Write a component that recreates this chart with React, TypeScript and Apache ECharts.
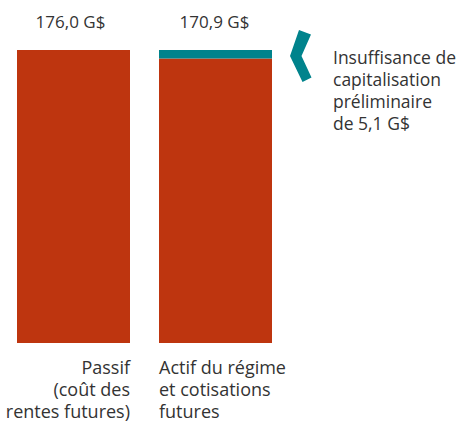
import React, { useEffect, useRef } from "react";
import * as echarts from "echarts";

const categories = ["Passif\n(coût des\nrentes futures)", "Actif du régime\net cotisations\nfutures"];
const baseValues = [176.0, 170.9];
const shortfallValues = [0, 5.1];
const unit = "G$";
const annotationLines = ["Insuffisance de", "capitalisation", "préliminaire"];

const RED = "#BE350F";
const TEAL = "#00838C";
const TEXT = "#333333";
const FONT = "Open Sans";

const fmt = (v: number) => v.toFixed(1).replace(".", ",");

export default function App() {
  const ref = useRef<HTMLDivElement>(null);
  useEffect(() => {
    if (!ref.current) return;
    const chart = echarts.init(ref.current, null, { renderer: "svg" });
    const barWidth = 113;
    chart.setOption({
      animation: false,
      grid: { left: 2.5, width: 284, top: 50, bottom: 79 },
      xAxis: {
        type: "category",
        data: categories,
        axisLine: { show: false },
        axisTick: { show: false },
        axisLabel: { show: false },
      },
      yAxis: { type: "value", min: 0, max: 176, show: false, splitLine: { show: false } },
      series: [
        {
          type: "bar",
          stack: "s",
          data: baseValues,
          barWidth,
          itemStyle: { color: RED },
        },
        {
          type: "bar",
          stack: "s",
          data: shortfallValues.map((v, i) => ({ value: v, label: { offset: [i === 0 ? -3 : -1, 0] } })),
          barWidth,
          itemStyle: { color: TEAL },
          label: {
            show: true,
            position: "top",
            distance: 20,
            color: TEXT,
            fontFamily: FONT,
            fontSize: 17,
            formatter: (p: any) => `${fmt(baseValues[p.dataIndex])} ${unit}`,
          },
        },
      ],
    });
    const yBottom = chart.convertToPixel({ yAxisIndex: 0 }, 0) as number;
    const catLabels = categories.map((c, i) => {
      const cx = chart.convertToPixel({ xAxisIndex: 0 }, i) as number;
      const left = i === 0;
      return {
        type: "text",
        x: left ? cx + barWidth / 2 : cx - barWidth / 2,
        y: yBottom + 13,
        style: {
          text: c,
          align: left ? "right" : "left",
          verticalAlign: "top",
          fill: TEXT,
          fontFamily: FONT,
          fontSize: 18,
          lineHeight: 22,
        },
      };
    });
    chart.setOption({
      graphic: [
        ...catLabels,
        {
          type: "polygon",
          shape: {
            points: [
              [299, 30],
              [311, 34.5],
              [301.5, 56],
              [311.5, 77.5],
              [302.5, 82],
              [290, 56],
            ],
          },
          style: { fill: TEAL },
        },
        {
          type: "text",
          x: 333,
          y: 46,
          style: {
            text: [...annotationLines, `de ${fmt(shortfallValues[1])} ${unit}`].join("\n"),
            align: "left",
            verticalAlign: "top",
            fill: TEXT,
            fontFamily: FONT,
            fontSize: 17.5,
            lineHeight: 22,
          },
        },
      ],
    });
    return () => chart.dispose();
  }, []);
  return (
    <div
      ref={ref}
      style={{ position: "absolute", left: 0, top: 0, width: 461, height: 422, background: "#fff" }}
    />
  );
}
